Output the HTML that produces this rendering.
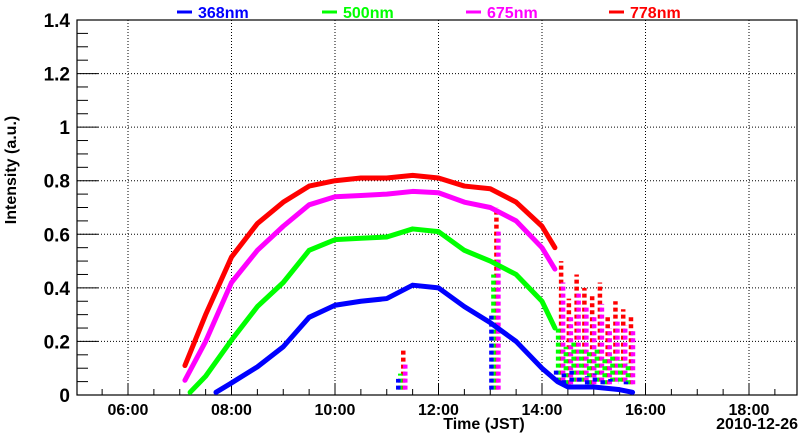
<!DOCTYPE html>
<html><head><meta charset="utf-8"><style>
body{margin:0;background:#fff;}
svg{display:block;font-family:"Liberation Sans",sans-serif;font-weight:bold;}
</style></head><body>
<svg id="c" width="800" height="434"></svg>
<script>
const times = [7.1,7.5,8.0,8.5,9.0,9.5,10.0,10.5,11.0,11.5,12.0,12.5,13.0,13.5,14.0,14.25];
const red = [0.11,0.30,0.515,0.64,0.72,0.78,0.80,0.81,0.81,0.82,0.81,0.78,0.77,0.72,0.63,0.55];
const magenta = [0.055,0.20,0.42,0.54,0.63,0.71,0.74,0.745,0.75,0.76,0.755,0.72,0.70,0.65,0.55,0.47];
const greenT = [7.2,7.5,8.0,8.5,9.0,9.5,10.0,10.5,11.0,11.5,12.0,12.5,13.0,13.5,14.0,14.25];
const green = [0.01,0.07,0.205,0.33,0.42,0.54,0.58,0.585,0.59,0.62,0.61,0.54,0.50,0.45,0.35,0.25];
const blueT = [7.7,8.0,8.5,9.0,9.5,10.0,10.5,11.0,11.5,12.0,12.5,13.0,13.5,14.0,14.3,14.5,15.0,15.5,15.75];
const blue = [0.01,0.045,0.105,0.18,0.29,0.335,0.35,0.36,0.41,0.40,0.33,0.27,0.20,0.10,0.05,0.03,0.03,0.02,0.01];
const bandT = [11.3,13.1,14.35,14.5,14.65,14.8,14.95,15.1,15.25,15.4,15.55,15.7];
const redHi = [0.17,0.70,0.50,0.36,0.45,0.40,0.38,0.42,0.30,0.35,0.32,0.30];
const magHi = [0.12,0.62,0.42,0.30,0.38,0.33,0.30,0.34,0.25,0.28,0.26,0.24];
const grnHi = [0.08,0.45,0.25,0.18,0.20,0.17,0.16,0.18,0.14,0.15,0.13,0.12];
const bluHi = [0.06,0.30,0.10,0.08,0.09,0.07,0.07,0.08,0.06,0.06,0.05,0.05];
const bandLo = [0.02,0.02,0.05,0.04,0.05,0.05,0.04,0.05,0.04,0.05,0.05,0.04];
const yTicks = [0,0.2,0.4,0.6,0.8,1,1.2,1.4];
const yLabels = ["0","0.2","0.4","0.6","0.8","1","1.2","1.4"];
const xTicks = [6,8,10,12,14,16,18];
const xLabels = ["06:00","08:00","10:00","12:00","14:00","16:00","18:00"];

const L=77,R=797,T=20,B=395;
const x = t => 128 + (t-6)*51.75;
const y = v => B - v*(B-T)/1.4;
const svg=document.getElementById('c');
const NS='http://www.w3.org/2000/svg';
function mk(tag,attrs,parent){const e=document.createElementNS(NS,tag);for(const k in attrs)e.setAttribute(k,attrs[k]);(parent||svg).appendChild(e);return e;}

xTicks.forEach(t=>{const g=mk('line',{x1:x(t),x2:x(t),y1:T,y2:B,stroke:'#000','stroke-width':1,'stroke-dasharray':'1 2'});

});
yTicks.slice(1,-1).forEach(v=>{const g=mk('line',{x1:L,x2:R,y1:y(v),y2:y(v),stroke:'#000','stroke-width':1,'stroke-dasharray':'1 2'});

});

const fr=mk('rect',{x:L,y:T,width:R-L,height:B-T,fill:'none',stroke:'#000','stroke-width':1.2});



for(let i=0;i<28;i++){const v=i*0.05;const major=i%4===0;
 mk('line',{x1:L,x2:L+(major?21:11),y1:y(v),y2:y(v),stroke:'#000','stroke-width':1});}
yTicks.forEach((v,i)=>{const t=mk('text',{x:L-7,y:y(v)+7,'text-anchor':'end','font-size':19});t.textContent=yLabels[i];

});
for(let m=5.5;m<=19;m+=0.5){const major=Math.abs(m-Math.round(m/2)*2)<1e-6;
 mk('line',{x1:x(m),x2:x(m),y1:B,y2:B-(major?11:6),stroke:'#000','stroke-width':1});}
xTicks.forEach((t,i)=>{const e=mk('text',{x:x(t),y:415,'text-anchor':'middle','font-size':16});e.textContent=xLabels[i];

});

const xt=mk('text',{x:484,y:429,'text-anchor':'middle','font-size':16});xt.textContent='Time (JST)';


const dt=mk('text',{x:798,y:429,'text-anchor':'end','font-size':16});dt.textContent='2010-12-26';


const yt=mk('text',{x:16,y:170,'text-anchor':'middle','font-size':16,transform:'rotate(-90 16 170)'});yt.textContent='Intensity (a.u.)';



function bands(hi,col,name,off){bandT.forEach((t,i)=>{const b=mk('line',{x1:x(t)+off,x2:x(t)+off,y1:y(bandLo[i]),y2:y(hi[i]),stroke:col,'stroke-width':4.5,'stroke-dasharray':'4 3'});

});}
bands(redHi,'#ff0000','band-778nm',1);
bands(magHi,'#ff00ff','band-675nm',3);
bands(grnHi,'#00ff00','band-500nm',-2);
bands(bluHi,'#0000ff','band-368nm',-4);

function series(ts,vs,col,name){const p=mk('polyline',{points:ts.map((t,i)=>x(t)+','+y(vs[i])).join(' '),fill:'none',stroke:col,'stroke-width':5,'stroke-linejoin':'round','stroke-linecap':'round'});

}
series(times,red,'#ff0000','series-778nm');
series(times,magenta,'#ff00ff','series-675nm');
series(greenT,green,'#00ff00','series-500nm');
series(blueT,blue,'#0000ff','series-368nm');

const leg=[["368nm","#0000ff",177],["500nm","#00ff00",322],["675nm","#ff00ff",466],["778nm","#ff0000",609]];
leg.forEach(([lab,col,lx])=>{const g=mk('g',{});


mk('line',{x1:lx,x2:lx+15,y1:12,y2:12,stroke:col,'stroke-width':3},g);
const t=mk('text',{x:lx+21,y:18,fill:col,'font-size':16},g);t.textContent=lab;});
</script>
</body></html>
